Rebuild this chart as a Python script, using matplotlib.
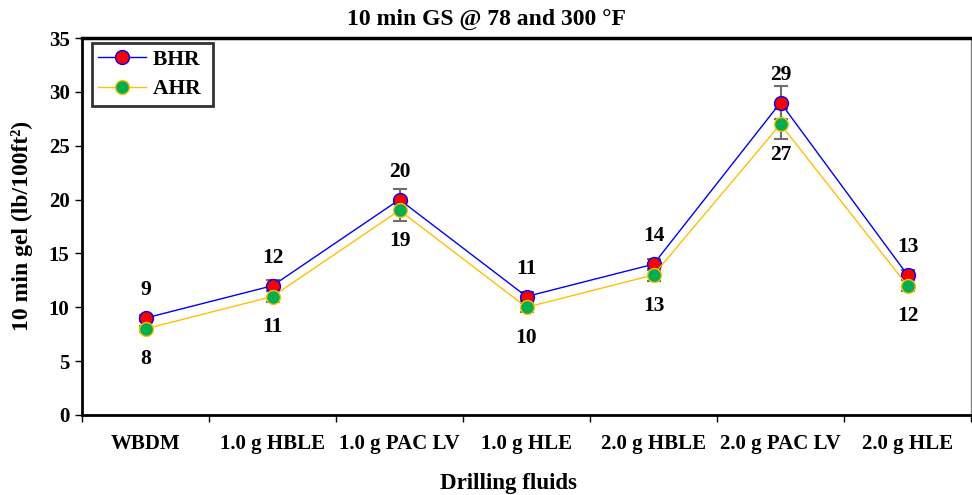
import numpy as np
import matplotlib.pyplot as plt

plt.rcParams['font.family'] = ['Liberation Serif', 'DejaVu Serif']
plt.rcParams['font.weight'] = 'bold'

# dados
fluids = ['WBDM', '1.0 g HBLE', '1.0 g PAC LV', '1.0 g HLE',
          '2.0 g HBLE', '2.0 g PAC LV', '2.0 g HLE']
bhr = [9, 12, 20, 11, 14, 29, 13]
ahr = [8, 11, 19, 10, 13, 27, 12]
bhr_err = [0.3, 0.5, 1.0, 0.4, 0.5, 1.5, 0.5]
ahr_err = [0.3, 0.5, 1.0, 0.4, 0.6, 1.4, 0.5]

W, H = 972, 495
fig = plt.figure(figsize=(W / 100, H / 100), dpi=100)
ax = fig.add_axes([82 / W, 1 - 415 / H, (971 - 82) / W, (415 - 38) / H])

x = np.arange(len(fluids))

ax.errorbar(x, bhr, yerr=bhr_err, fmt='none', ecolor='#6e6e6e', elinewidth=1.5,
            capsize=5, capthick=1.5, zorder=2)
ax.errorbar(x, ahr, yerr=ahr_err, fmt='none', ecolor='#6e6e6e', elinewidth=1.5,
            capsize=5, capthick=1.5, zorder=2)
ax.plot(x, bhr, color='#0000ff', lw=1, marker='o', ms=10, mfc='#ff0000',
        mec='#0000ff', mew=1, label='BHR', zorder=3)
ax.plot(x, ahr, color='#ffc000', lw=1, marker='o', ms=10, mfc='#00b050',
        mec='#ffc000', mew=1, label='AHR', zorder=4)

for xi, b, a in zip(x, bhr, ahr):
    ax.annotate(str(b), (xi, b), xytext=(0, 20), textcoords='offset points',
                ha='center', va='center', fontsize=15.5, fontweight='bold')
    ax.annotate(str(a), (xi, a), xytext=(0, -22), textcoords='offset points',
                ha='center', va='center', fontsize=15.5, fontweight='bold')

ax.set_xlim(-0.5, len(fluids) - 0.5)
ax.set_ylim(0, 35)
ax.set_yticks(np.arange(0, 36, 5))
ax.set_xticks(x)
ax.set_xticklabels(fluids)
ax.set_xticks(np.arange(-0.5, len(fluids), 1), minor=True)
ax.tick_params(axis='x', which='major', length=0, pad=14, labelsize=15)
ax.tick_params(axis='x', which='minor', length=5, width=1, direction='out')
ax.tick_params(axis='y', length=5, width=1, direction='out', labelsize=15, pad=4)
for lab in ax.get_xticklabels() + ax.get_yticklabels():
    lab.set_fontweight('bold')

ax.spines['left'].set_linewidth(2)
ax.spines['bottom'].set_linewidth(2)
ax.spines['top'].set_linewidth(2.5)
ax.spines['right'].set_color('#808080')
ax.spines['right'].set_linewidth(1)

leg = ax.legend(loc='upper left', bbox_to_anchor=(10 / 889, 1 - 5 / 377),
                fontsize=15.5, frameon=True, fancybox=False, edgecolor='black',
                handlelength=2.2, borderpad=0.3, labelspacing=0.45,
                handletextpad=0.35, borderaxespad=0)
leg.get_frame().set_linewidth(2)
leg.texts[0].set_text('BHR ')
leg.texts[1].set_text('AHR ')
for t in leg.get_texts():
    t.set_fontweight('bold')

fig.text(486 / W, 1 - 19 / H, '10 min GS @ 78 and 300 °F', ha='center',
         va='center', fontsize=17, fontweight='bold')
fig.text(508 / W, 1 - 483 / H, 'Drilling fluids', ha='center', va='center',
         fontsize=16.5, fontweight='bold')
fig.text(22 / W, 1 - 226 / H, '10 min gel (lb/100ft²)', ha='center',
         va='center', rotation=90, fontsize=17, fontweight='bold')

fig.savefig('out.png', dpi=100)
